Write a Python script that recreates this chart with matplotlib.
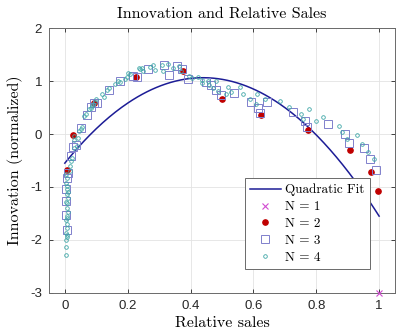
import numpy as np
import matplotlib
matplotlib.use("Agg")
import matplotlib.pyplot as plt

# quadratic fit coefficients (c0 + c1*x + c2*x^2)
fit_coef = [-0.55, 7.33, -8.33]

# N = 1
n1_x = [1.0]
n1_y = [-3.0]

# N = 2
n2_x = [0.006, 0.026, 0.092, 0.227, 0.376, 0.500, 0.624, 0.773, 0.909, 0.975, 0.997]
n2_y = [-0.68, -0.02, 0.58, 1.07, 1.19, 0.66, 0.36, 0.08, -0.30, -0.71, -1.07]

# N = 3
n3_x = [0.009, 0.008, 0.005, 0.003, 0.004, 0.006, 0.019, 0.025, 0.034, 0.050,
        0.069, 0.083, 0.092, 0.103, 0.140, 0.177, 0.218, 0.230, 0.265, 0.316,
        0.332, 0.356, 0.372, 0.392, 0.448, 0.464, 0.482, 0.498, 0.539, 0.593,
        0.615, 0.621, 0.643, 0.726, 0.763, 0.770, 0.836, 0.890, 0.905, 0.953,
        0.972, 0.990]
n3_y = [-0.73, -0.83, -1.03, -1.27, -1.53, -1.82, -0.41, -0.24, -0.20, 0.12,
        0.36, 0.51, 0.58, 0.58, 0.83, 1.00, 1.09, 1.07, 1.22, 1.30,
        1.12, 1.28, 1.22, 1.03, 0.98, 0.92, 0.83, 0.73, 0.77, 0.60,
        0.49, 0.40, 0.60, 0.41, 0.24, 0.13, 0.19, 0.00, -0.17, -0.26,
        -0.47, -0.68]

# N = 4
n4_x = [0.004, 0.006, 0.005, 0.008, 0.007, 0.009, 0.006, 0.010, 0.005, 0.008,
        0.007, 0.009, 0.006, 0.008, 0.005, 0.007, 0.006, 0.004, 0.008, 0.006,
        0.005, 0.004, 0.005,
        0.018, 0.022, 0.021, 0.028, 0.038, 0.041, 0.028, 0.050, 0.054, 0.060,
        0.066, 0.076, 0.085, 0.095, 0.082, 0.091, 0.119, 0.135, 0.142, 0.170,
        0.176, 0.198, 0.208, 0.236, 0.246, 0.200, 0.240, 0.250, 0.280, 0.287,
        0.308, 0.312, 0.328, 0.363, 0.369, 0.404, 0.423, 0.435, 0.454, 0.482,
        0.438, 0.473, 0.486, 0.514, 0.520, 0.558, 0.568, 0.589, 0.609, 0.612,
        0.637, 0.685, 0.713, 0.751, 0.776, 0.757, 0.798, 0.820, 0.871, 0.883,
        0.899, 0.931, 0.946, 0.965, 0.984, 0.016, 0.030, 0.046, 0.100, 0.125,
        0.160, 0.190, 0.270, 0.345, 0.395, 0.460, 0.530]
n4_y = [-0.75, -0.83, -0.92, -0.98, -1.03, -1.09, -1.13, -1.20, -1.29, -1.31,
        -1.39, -1.48, -1.54, -1.58, -1.63, -1.69, -1.78, -1.86, -1.91, -1.95,
        -2.01, -2.14, -2.29,
        -0.70, -0.45, -0.51, -0.26, -0.23, -0.08, -0.04, 0.09, 0.13, 0.34,
        0.37, 0.47, 0.53, 0.60, 0.49, 0.56, 0.75, 0.83, 0.87, 1.00,
        0.99, 1.07, 1.13, 1.24, 1.24, 1.16, 1.22, 1.18, 1.30, 1.20,
        1.31, 1.18, 1.33, 1.29, 1.18, 1.05, 1.07, 1.02, 1.00, 1.00,
        0.96, 0.87, 0.81, 0.75, 0.88, 0.88, 0.75, 0.67, 0.56, 0.75,
        0.66, 0.62, 0.51, 0.38, 0.47, 0.28, 0.24, 0.32, 0.15, 0.04,
        -0.09, -0.02, -0.19, -0.34, -0.47, -0.60, -0.12, 0.05, 0.66, 0.70,
        0.95, 1.04, 1.26, 1.25, 1.10, 0.93, 0.79]

serif = "cmr10"
plt.rcParams["font.family"] = ["Liberation Sans", "DejaVu Sans"]

fig = plt.figure(figsize=(3.96, 3.34), dpi=100)
ax = fig.add_axes([0.124, 0.123, 0.873, 0.793])

xs = np.linspace(0, 1, 200)
ax.plot(xs, np.polyval(fit_coef[::-1], xs), color="#1c1c96", lw=1.1,
        label="Quadratic Fit", zorder=3)
ax.plot(n1_x, n1_y, "x", color="#d24bd2", ms=4, mew=0.8, label="N = 1",
        clip_on=False, zorder=4)
ax.plot(n2_x, n2_y, "o", color="#c00000", ms=3.8, mec="#c00000",
        label="N = 2", zorder=4)
ax.plot(n3_x, n3_y, "s", mfc="none", mec="#8080cc", ms=5.3, mew=0.7,
        label="N = 3", zorder=5)
ax.plot(n4_x, n4_y, "o", mfc="none", mec="#3fa7a7", ms=2.6, mew=0.6,
        label="N = 4", zorder=6)

ax.set_xlim(-0.05, 1.05)
ax.set_ylim(-3, 2)
ax.set_xticks([0, 0.2, 0.4, 0.6, 0.8, 1])
ax.set_xticklabels(["0", "0.2", "0.4", "0.6", "0.8", "1"])
ax.set_yticks([-3, -2, -1, 0, 1, 2])
ax.set_yticklabels(["-3", "-2", "-1", "0", "1", "2"])
ax.grid(True, color="#e3e3e3", lw=0.6)
ax.set_axisbelow(True)
ax.tick_params(direction="in", length=3, width=0.6, labelsize=9.5,
               colors="#262626", top=True, right=True, pad=5)
for s in ax.spines.values():
    s.set_color("#6a6a6a")
    s.set_linewidth(0.7)

ax.set_title("Innovation and Relative Sales", fontfamily=serif,
             fontsize=11.5, pad=7)
ax.set_xlabel("Relative sales", fontfamily=serif, fontsize=11.5, labelpad=3)
ax.set_ylabel("Innovation (normalized)", fontfamily=serif, fontsize=11.5,
              labelpad=5)

leg = ax.legend(loc="lower right", bbox_to_anchor=(0.928, 0.09),
                prop={"family": serif, "size": 9.5}, fancybox=False,
                framealpha=1, edgecolor="#6a6a6a", handlelength=2.3,
                handletextpad=0.35, borderpad=0.4, labelspacing=0.35,
                borderaxespad=0)
leg.get_frame().set_linewidth(0.7)

fig.savefig("out.png", dpi=100)
